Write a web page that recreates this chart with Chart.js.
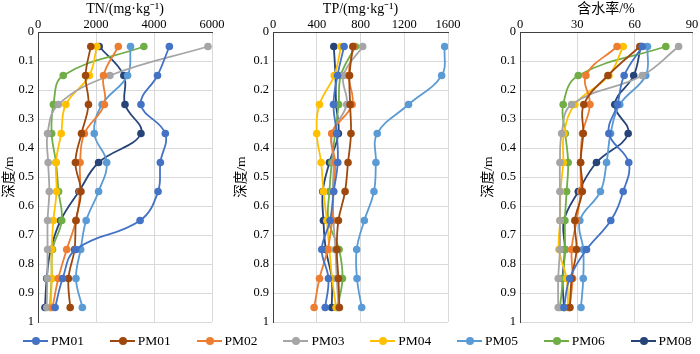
<!DOCTYPE html>
<html>
<head>
<meta charset="utf-8">
<script src="https://cdn.jsdelivr.net/npm/chart.js@4.4.1/dist/chart.umd.min.js"></script>
<style>
  html, body { margin: 0; padding: 0; background: #fff; }
  body { width: 700px; height: 354px; position: relative; overflow: hidden; }
  .cv { position: absolute; top: 0; }
  #legend { position: absolute; left: 0; top: 331px; width: 700px; height: 20px; }
  .item { position: absolute; top: 0; height: 20px; font-family: "Liberation Serif", serif; font-size: 13.5px; color: #000; line-height: 20px; }
  .item .ln { position: absolute; top: 9px; left: 0; width: 25px; height: 2px; }
  .item .dot { position: absolute; top: 6px; left: 9px; width: 8px; height: 8px; border-radius: 50%; }
  .item .tx { position: absolute; left: 28px; top: 0; white-space: nowrap; }
</style>
</head>
<body>
<canvas id="c1" class="cv" style="left:1px" width="229" height="335"></canvas>
<canvas id="c2" class="cv" style="left:233px" width="230" height="335"></canvas>
<canvas id="c3" class="cv" style="left:480px" width="220" height="335"></canvas>
<div id="legend"></div>
<script>
// ---- data ----
const depths = [0.05, 0.15, 0.25, 0.35, 0.45, 0.55, 0.65, 0.75, 0.85, 0.95];
const seriesNames = ["PM01", "PM01", "PM02", "PM03", "PM04", "PM05", "PM06", "PM08"];

// TN (mg/kg)
const tnPM01a = [4530, 4120, 3550, 4390, 4220, 4140, 3520, 1300, 850, 590];
const tnPM01b = [1820, 1640, 1740, 1500, 1290, 1480, 1310, 1260, 1050, 1110];
const tnPM02  = [2770, 2260, 2290, 1600, 1450, 1450, 1310, 990, 700, 500];
const tnPM03  = [5860, 2480, 700, 330, 350, 390, 330, 330, 320, 300];
const tnPM04  = [2030, 1770, 960, 800, 620, 640, 530, 470, 470, 440];
const tnPM05  = [3190, 3090, 2210, 1940, 2370, 2090, 1660, 1470, 1310, 1530];
const tnPM06  = [3650, 870, 530, 470, 620, 710, 820, 500, 470, 410];
const tnPM08  = [2110, 2960, 3000, 3550, 2090, 1410, 780, 440, 300, 240];

// TP (mg/kg)
const tpPM01a = [650, 590, 553, 583, 592, 555, 522, 446, 507, 477];
const tpPM01b = [730, 700, 705, 713, 686, 659, 598, 583, 598, 607];
const tpPM02  = [735, 692, 723, 537, 568, 553, 540, 500, 425, 376];
const tpPM03  = [820, 644, 674, 540, 555, 546, 553, 571, 583, 600];
const tpPM04  = [622, 560, 425, 400, 440, 461, 492, 516, 540, 577];
const tpPM05  = [1570, 1542, 1239, 953, 941, 923, 835, 765, 768, 811];
const tpPM06  = [753, 620, 600, 568, 537, 516, 507, 604, 635, 589];
const tpPM08  = [556, 571, 577, 598, 516, 455, 461, 483, 537, 537];

// water content (%)
const wcPM01a = [64, 54.5, 51, 46.5, 56.9, 54, 47.5, 34.8, 26, 23];
const wcPM01b = [62.7, 46, 33.4, 33.1, 31.7, 32.6, 28.7, 29.6, 27, 26.1];
const wcPM02  = [50.8, 34.5, 36.6, 32.7, 31.7, 31.7, 29.6, 27, 27.5, 26];
const wcPM03  = [83, 64, 27, 21.8, 20.9, 20.9, 20.9, 20.9, 20, 20];
const wcPM04  = [54, 46.5, 28.7, 23, 22.6, 21.2, 21, 20.4, 24.4, 25.2];
const wcPM05  = [66.7, 65.8, 52.2, 47.4, 45.3, 42.1, 31.3, 33.1, 33.1, 31.9];
const wcPM06  = [76.3, 30.5, 22.6, 23.7, 25.2, 24.4, 23.5, 23.5, 22.5, 20.9];
const wcPM08  = [63.2, 59.5, 49.6, 56.6, 40, 30.5, 23, 23.5, 22.3, 23];

// tick labels / axis titles
const yTitle = "深度/m";
const xTitles = ["TN/(mg·kg⁻¹)", "TP/(mg·kg⁻¹)", "含水率/%"];

// ---- styling ----
const colors = ["#4472C4", "#9E480E", "#ED7D31", "#A5A5A5", "#FFC000", "#5B9BD5", "#70AD47", "#264478"];
const FONT = "'Liberation Serif', 'Noto Sans CJK SC', serif";

function makeDatasets(arrs) {
  return arrs.map((vals, i) => ({
    label: seriesNames[i],
    data: vals.map((v, k) => ({ x: v, y: depths[k] })),
    borderColor: colors[i],
    backgroundColor: colors[i],
    borderWidth: 1.8,
    pointRadius: 3.8,
    pointHoverRadius: 3.8,
    pointBorderWidth: 0,
    showLine: true,
    tension: 0.4,
    fill: false
  }));
}

function makeChart(id, arrs, xMax, xStep, xTitle, yAxisWidth, padRight) {
  return new Chart(document.getElementById(id), {
    type: "scatter",
    data: { datasets: makeDatasets(arrs) },
    options: {
      responsive: false,
      animation: false,
      events: [],
      layout: { padding: { left: 0, right: padRight, top: 0, bottom: 13 } },
      plugins: { legend: { display: false }, tooltip: { enabled: false } },
      scales: {
        x: {
          type: "linear",
          position: "top",
          min: 0, max: xMax,
          ticks: { stepSize: xStep, color: "#000", padding: 0, font: { family: FONT, size: 12.5 },
                   callback: (v) => String(v) },
          grid: { color: "#d9d9d9", lineWidth: 1, drawTicks: false },
          border: { display: true, color: "#404040", width: 1 },
          title: { display: true, text: xTitle, color: "#000", padding: { top: 1, bottom: 0 }, font: { family: FONT, size: 14 } },
          afterFit: (s) => { s.height = 32; }
        },
        y: {
          type: "linear",
          reverse: true,
          min: 0, max: 1,
          ticks: {
            stepSize: 0.1, color: "#000", padding: 4, font: { family: FONT, size: 12.5 },
            callback: (v) => String(Number(v.toFixed(1)))
          },
          grid: { color: "#d9d9d9", lineWidth: 1, drawTicks: false },
          border: { display: true, color: "#404040", width: 1 },
          title: { display: true, text: yTitle, color: "#000", padding: { top: 0, bottom: 0 }, font: { family: FONT, size: 13.5 } },
          afterFit: (s) => { s.width = yAxisWidth; }
        }
      }
    }
  });
}

makeChart("c1", [tnPM01a, tnPM01b, tnPM02, tnPM03, tnPM04, tnPM05, tnPM06, tnPM08], 6000, 2000, xTitles[0], 37, 18);
makeChart("c2", [tpPM01a, tpPM01b, tpPM02, tpPM03, tpPM04, tpPM05, tpPM06, tpPM08], 1600, 400, xTitles[1], 40, 15);
makeChart("c3", [wcPM01a, wcPM01b, wcPM02, wcPM03, wcPM04, wcPM05, wcPM06, wcPM08], 90, 30, xTitles[2], 40, 8);

// ---- legend ----
const legend = document.getElementById("legend");
seriesNames.forEach((name, i) => {
  const it = document.createElement("div");
  it.className = "item";
  it.style.left = (23 + 86.8 * i) + "px";
  it.innerHTML = '<span class="ln" style="background:' + colors[i] + '"></span>' +
                 '<span class="dot" style="background:' + colors[i] + '"></span>' +
                 '<span class="tx"></span>';
  it.querySelector(".tx").textContent = name;
  legend.appendChild(it);
});
</script>
</body>
</html>
